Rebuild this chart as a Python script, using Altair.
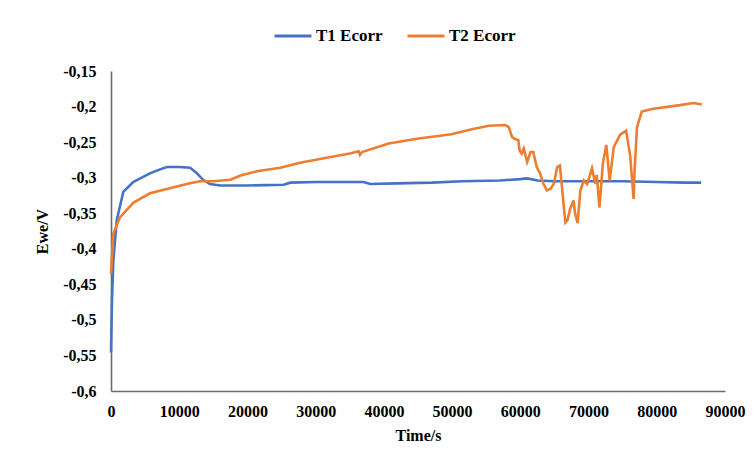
import altair as alt
import pandas as pd

# T1 Ecorr series
t1_time = [0, 150, 340, 840, 1800, 3300, 4500, 5700, 7000, 8200, 10000, 11600, 12500,
           13500, 14500, 16000, 20000, 25300, 26300, 30000, 35000, 37000, 38000, 42000,
           47000, 51500, 57000, 60000, 61000, 62500, 65000, 70000, 75000, 80000, 84000, 86500]
t1_val = [-0.546, -0.47, -0.417, -0.36, -0.32, -0.306, -0.300, -0.294, -0.289, -0.285,
          -0.285, -0.286, -0.293, -0.303, -0.309, -0.311, -0.311, -0.310, -0.307, -0.306,
          -0.306, -0.306, -0.309, -0.308, -0.307, -0.305, -0.304, -0.302, -0.301, -0.304,
          -0.305, -0.305, -0.305, -0.306, -0.307, -0.307]

# T2 Ecorr series
t2_time = [0, 340, 1300, 3300, 5700, 8200, 11100, 13000, 15000, 17500, 19000, 21400, 24800,
           27700, 31600, 35000, 36300, 36500, 36800, 40700, 45100, 49900, 52900, 55400,
           57800, 58300, 58800, 59300, 59700, 59900, 60200, 60500, 61000, 61500, 61900,
           62400, 62900, 63400, 63900, 64400, 64900, 65400, 65800, 66100, 66600, 66900,
           67300, 67800, 68000, 68400, 68800, 69300, 69800, 70500, 71000, 71200, 71600,
           72100, 72600, 73100, 73700, 74600, 75500, 76100, 76600, 76750, 77100, 77800,
           79500, 83400, 85400, 86600]
t2_val = [-0.435, -0.379, -0.356, -0.335, -0.322, -0.316, -0.309, -0.305, -0.305, -0.303,
          -0.297, -0.291, -0.286, -0.279, -0.272, -0.266, -0.263, -0.268, -0.264, -0.252,
          -0.245, -0.239, -0.232, -0.227, -0.226, -0.229, -0.243, -0.246, -0.247, -0.262,
          -0.266, -0.259, -0.278, -0.264, -0.264, -0.285, -0.294, -0.309, -0.318, -0.316,
          -0.309, -0.285, -0.283, -0.313, -0.363, -0.360, -0.344, -0.332, -0.349, -0.364,
          -0.318, -0.304, -0.309, -0.287, -0.309, -0.296, -0.342, -0.280, -0.254, -0.304,
          -0.257, -0.240, -0.234, -0.269, -0.330, -0.290, -0.229, -0.207, -0.203, -0.198,
          -0.195, -0.197]

series_names = ["T1 Ecorr", "T2 Ecorr"]
series_colors = ["#4472C4", "#ED7D31"]
x_ticks = [0, 10000, 20000, 30000, 40000, 50000, 60000, 70000, 80000, 90000]
y_ticks = [-0.6, -0.55, -0.5, -0.45, -0.4, -0.35, -0.3, -0.25, -0.2, -0.15]

df = pd.concat([
    pd.DataFrame({"time": t1_time, "ewe": t1_val, "series": series_names[0], "order": range(len(t1_time))}),
    pd.DataFrame({"time": t2_time, "ewe": t2_val, "series": series_names[1], "order": range(len(t2_time))}),
])

font = "Liberation Serif"

chart = alt.Chart(df).mark_line(strokeWidth=2.6).encode(
    x=alt.X("time:Q", title="Time/s",
            scale=alt.Scale(domain=[0, 90000], nice=False),
            axis=alt.Axis(values=x_ticks, format="d", labelPadding=12, titlePadding=8,
                          labelFlush=False)),
    y=alt.Y("ewe:Q", title="Ewe/V",
            scale=alt.Scale(domain=[-0.6, -0.15], nice=False, zero=False),
            axis=alt.Axis(values=y_ticks, labelPadding=15, titlePadding=12,
                          labelFlush=False,
                          labelExpr="'-' + replace(format(-datum.value, '.2~f'), '.', ',')")),
    color=alt.Color("series:N", scale=alt.Scale(domain=series_names, range=series_colors),
                    legend=alt.Legend(title=None, orient="none", direction="horizontal",
                                      legendX=162, legendY=-55, symbolType="stroke",
                                      symbolSize=1369, symbolStrokeWidth=3,
                                      labelOffset=3, columnPadding=18,
                                      labelFont=font, labelFontSize=17,
                                      labelFontWeight="bold", labelColor="#000000")),
    order="order:Q",
).properties(
    width=614, height=320,
    autosize=alt.AutoSizeParams(type="none"),
    padding={"left": 103, "top": 63, "right": 21, "bottom": 62},
    background="white",
).configure(
    font=font
).configure_view(
    stroke=None
).configure_axis(
    grid=False, ticks=False, tickSize=0,
    domainColor="#6b6b6b", domainWidth=1.6,
    labelFont=font, labelFontSize=16, labelFontWeight="bold", labelColor="#000000",
    titleFont=font, titleFontSize=16, titleFontWeight="bold", titleColor="#000000",
).configure_legend(
    labelFont=font
)

chart.save("out.html", embed_options={"renderer": "svg", "actions": False})
